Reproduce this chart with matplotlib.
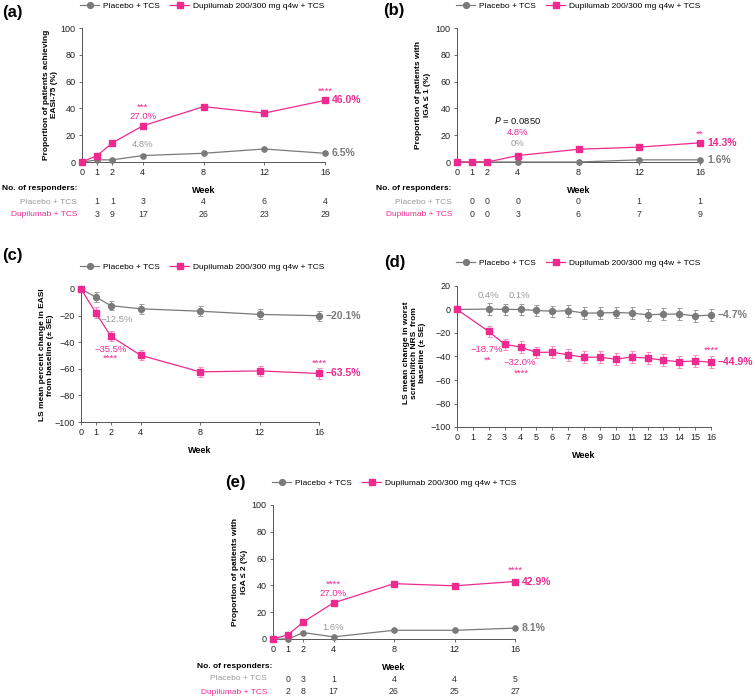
import matplotlib.pyplot as plt
from matplotlib.lines import Line2D
import matplotlib.transforms as mtransforms

plt.rcParams['font.family'] = ['Liberation Sans', 'DejaVu Sans']

GRAY = '#7a7a7a'
LGRAY = '#9a9a9a'
PINK = '#ee2a8f'
LPINK = '#f48cc0'

# ---- data ----
weeks = [0, 1, 2, 4, 8, 12, 16]
weeks_d = [0, 2, 3, 4, 5, 6, 7, 8, 9, 10, 11, 12, 13, 14, 15, 16]

easi75_pbo = [0, 1.6, 1.6, 4.8, 6.5, 9.7, 6.5]
easi75_dup = [0, 4.8, 14.3, 27.0, 41.3, 36.5, 46.0]
easi75_resp_pbo = [1, 1, 3, 4, 6, 4]
easi75_resp_dup = [3, 9, 17, 26, 23, 29]

iga1_pbo = [0, 0, 0, 0, 0, 1.6, 1.6]
iga1_dup = [0, 0, 0, 4.8, 9.5, 11.1, 14.3]
iga1_resp_pbo = [0, 0, 0, 0, 1, 1]
iga1_resp_dup = [0, 0, 3, 6, 7, 9]

easi_pct_pbo = [0, -6.0, -12.5, -14.9, -16.7, -19.1, -20.1]
easi_pct_pbo_se = [0, 3.6, 3.4, 3.8, 3.6, 3.8, 3.6]
easi_pct_dup = [0, -17.9, -35.5, -49.8, -62.3, -61.6, -63.5]
easi_pct_dup_se = [0, 4.0, 3.8, 3.8, 4.0, 4.0, 4.0]

nrs_pbo = [0, 0.4, 0.1, 0.0, -0.8, -1.5, -1.0, -3.0, -3.0, -2.6, -3.0, -4.5, -4.0, -3.8, -5.5, -4.7]
nrs_pbo_se = [0, 4.8, 4.8, 4.8, 4.8, 4.8, 5.0, 5.0, 5.0, 5.0, 5.0, 5.0, 5.0, 5.0, 5.0, 5.0]
nrs_dup = [0, -18.7, -29.6, -32.0, -36.5, -36.3, -38.6, -40.6, -40.6, -42.3, -40.4, -41.4, -43.2, -44.5, -43.8, -44.9]
nrs_dup_se = [0, 4.8, 4.8, 4.8, 4.8, 5.0, 5.0, 5.0, 5.0, 5.0, 5.0, 5.0, 5.0, 5.0, 5.0, 5.0]

iga2_pbo = [0, 0, 4.8, 1.6, 6.5, 6.5, 8.1]
iga2_dup = [0, 3.2, 12.7, 27.0, 41.3, 39.7, 42.9]
iga2_resp_pbo = [0, 3, 1, 4, 4, 5]
iga2_resp_dup = [2, 8, 17, 26, 25, 27]

W, H = 755, 698
fig = plt.figure(figsize=(W / 100, H / 100), dpi=100)

FS = 6.8  # annotation font size


def add_ax(l, t, r, b):
    return fig.add_axes([l / W, 1 - b / H, (r - l) / W, (b - t) / H])


def style(ax, xticks, ylim, yticks):
    ax.set_xlim(0, 16)
    ax.set_ylim(*ylim)
    ax.set_xticks(xticks)
    ax.set_yticks(yticks)
    for s in ['top', 'right']:
        ax.spines[s].set_visible(False)
    for s in ['left', 'bottom']:
        ax.spines[s].set_color('#555555')
        ax.spines[s].set_linewidth(0.7)
    ax.tick_params(labelsize=6.5, length=2.5, width=0.6, color='#555555', pad=2, labelcolor='#222222')
    ax.set_xlabel('Week', fontsize=6.5, fontweight='bold', labelpad=6)


def legend(x, y):
    h = [Line2D([], [], color=GRAY, marker='o', ms=4.2, lw=0.9),
         Line2D([], [], color=PINK, marker='s', ms=4.2, lw=0.9)]
    fig.legend(h, ['Placebo + TCS', 'Dupilumab 200/300 mg q4w + TCS'], loc='center left',
               bbox_to_anchor=(x / W, 1 - y / H), ncol=2, frameon=False, fontsize=6,
               handlelength=2.3, handletextpad=0.5, columnspacing=1.2, borderpad=0, borderaxespad=0)


def lines(ax, x, p, d, pe=None, de=None, ms=3.8):
    if pe is None:
        ax.plot(x, p, color=GRAY, marker='o', ms=ms, lw=0.9, clip_on=False, zorder=3)
        ax.plot(x, d, color=PINK, marker='s', ms=ms, lw=0.9, clip_on=False, zorder=4)
    else:
        ax.errorbar(x, p, yerr=pe, color=GRAY, marker='o', ms=ms, lw=0.9, ecolor=LGRAY,
                    elinewidth=0.7, capsize=1.8, capthick=0.7, clip_on=False, zorder=3)
        ax.errorbar(x, d, yerr=de, color=PINK, marker='s', ms=ms, lw=0.9, ecolor=LPINK,
                    elinewidth=0.7, capsize=1.8, capthick=0.7, clip_on=False, zorder=4)


def end_label(ax, y, text, color):
    ax.annotate(text, (16, y), xytext=(5, 0), textcoords='offset points', ha='left',
                va='center', fontsize=7.5, fontweight='bold', color=color, annotation_clip=False)


def ylabel(x, y, text):
    fig.text(x / W, 1 - y / H, text, rotation=90, ha='center', va='center',
             fontsize=6, fontweight='bold', multialignment='center')


def responders(ax, xlab, ytitle, yrows, rp, rd, xtitle):
    fig.text(xtitle / W, 1 - ytitle / H, 'No. of responders:', fontsize=6, fontweight='bold',
             ha='left', va='center')
    fig.text(xlab / W, 1 - yrows[0] / H, 'Placebo + TCS', fontsize=6, color=LGRAY, ha='right', va='center')
    fig.text(xlab / W, 1 - yrows[1] / H, 'Dupilumab + TCS', fontsize=6, color=PINK, ha='right', va='center')
    tr = mtransforms.blended_transform_factory(ax.transData, fig.transFigure)
    for w, a, b in zip(weeks[1:], rp, rd):
        ax.text(w, 1 - yrows[0] / H, str(a), transform=tr, fontsize=6.3, color='#333333', ha='center', va='center')
        ax.text(w, 1 - yrows[1] / H, str(b), transform=tr, fontsize=6.3, color='#333333', ha='center', va='center')


def note(ax, x, y, s, color):
    ax.text(x, y, s, color=color, fontsize=FS, ha='center', va='center')


def panel_label(x, y, s):
    fig.text(x / W, 1 - y / H, s, fontsize=12, fontweight='bold', ha='left', va='center')


# ---- (a) ----
ax = add_ax(82, 28, 325, 162)
style(ax, weeks, (0, 100), range(0, 101, 20))
lines(ax, weeks, easi75_pbo, easi75_dup)
note(ax, 4, 41, '***', PINK)
note(ax, 4, 34, '27.0%', PINK)
note(ax, 4, 13, '4.8%', LGRAY)
note(ax, 16, 53, '****', PINK)
end_label(ax, 46.0, '46.0%', PINK)
end_label(ax, 6.5, '6.5%', GRAY)
ylabel(50, 95, 'Proportion of patients achieving\nEASI-75 (%)')
responders(ax, 77, 188, (202, 215), easi75_resp_pbo, easi75_resp_dup, 2)
legend(80, 6)
panel_label(2, 12, '(a)')

# ---- (b) ----
ax = add_ax(457, 28, 700, 162)
style(ax, weeks, (0, 100), range(0, 101, 20))
lines(ax, weeks, iga1_pbo, iga1_dup)
note(ax, 4, 31, '$P$ = 0.0850', '#111111')
note(ax, 4, 22, '4.8%', PINK)
note(ax, 4, 14, '0%', LGRAY)
note(ax, 16, 21, '**', PINK)
end_label(ax, 14.3, '14.3%', PINK)
end_label(ax, 1.6, '1.6%', GRAY)
ylabel(423, 95, 'Proportion of patients with\nIGA ≤ 1 (%)')
responders(ax, 452, 188, (202, 215), iga1_resp_pbo, iga1_resp_dup, 376)
legend(456, 6)
panel_label(383, 10, '(b)')

# ---- (c) ----
ax = add_ax(81, 289, 319, 422)
style(ax, weeks, (-100, 0), range(-100, 1, 20))
lines(ax, weeks, easi_pct_pbo, easi_pct_dup, easi_pct_pbo_se, easi_pct_dup_se, ms=4.3)
note(ax, 2.4, -22.7, '−12.5%', LGRAY)
note(ax, 2.0, -45.3, '−35.5%', PINK)
note(ax, 2.0, -52, '****', PINK)
note(ax, 16, -55.5, '****', PINK)
end_label(ax, -20.1, '−20.1%', GRAY)
end_label(ax, -63.5, '−63.5%', PINK)
ylabel(47, 355, 'LS mean percent change in EASI\nfrom baseline (± SE)')
legend(80, 267)
panel_label(2, 255, '(c)')

# ---- (d) ----
ax = add_ax(457, 286, 711, 427)
style(ax, range(0, 17), (-100, 20), range(-100, 21, 20))
lines(ax, weeks_d, nrs_pbo, nrs_dup, nrs_pbo_se, nrs_dup_se, ms=4.3)
note(ax, 2.0, 12, '0.4%', LGRAY)
note(ax, 3.95, 11.5, '0.1%', LGRAY)
note(ax, 1.85, -34, '−18.7%', PINK)
note(ax, 1.95, -43, '**', PINK)
note(ax, 3.95, -45, '−32.0%', PINK)
note(ax, 4.05, -54, '****', PINK)
note(ax, 16, -34.5, '****', PINK)
end_label(ax, -4.7, '−4.7%', GRAY)
end_label(ax, -44.9, '−44.9%', PINK)
ylabel(414, 353, 'LS mean change in worst\nscratch/itch NRS  from\nbaseline (± SE)')
legend(456, 263)
panel_label(384, 262, '(d)')

# ---- (e) ----
ax = add_ax(273, 505, 515, 639)
style(ax, weeks, (0, 100), range(0, 101, 20))
lines(ax, weeks, iga2_pbo, iga2_dup)
note(ax, 4, 41, '****', PINK)
note(ax, 4, 34, '27.0%', PINK)
note(ax, 4, 8.5, '1.6%', LGRAY)
note(ax, 16, 51, '****', PINK)
end_label(ax, 42.9, '42.9%', PINK)
end_label(ax, 8.1, '8.1%', GRAY)
ylabel(240, 572, 'Proportion of patients with\nIGA ≤ 2 (%)')
responders(ax, 267, 667, (679, 692), iga2_resp_pbo, iga2_resp_dup, 197)
legend(272, 483)
panel_label(225, 483, '(e)')

fig.savefig('out.png', dpi=100)
